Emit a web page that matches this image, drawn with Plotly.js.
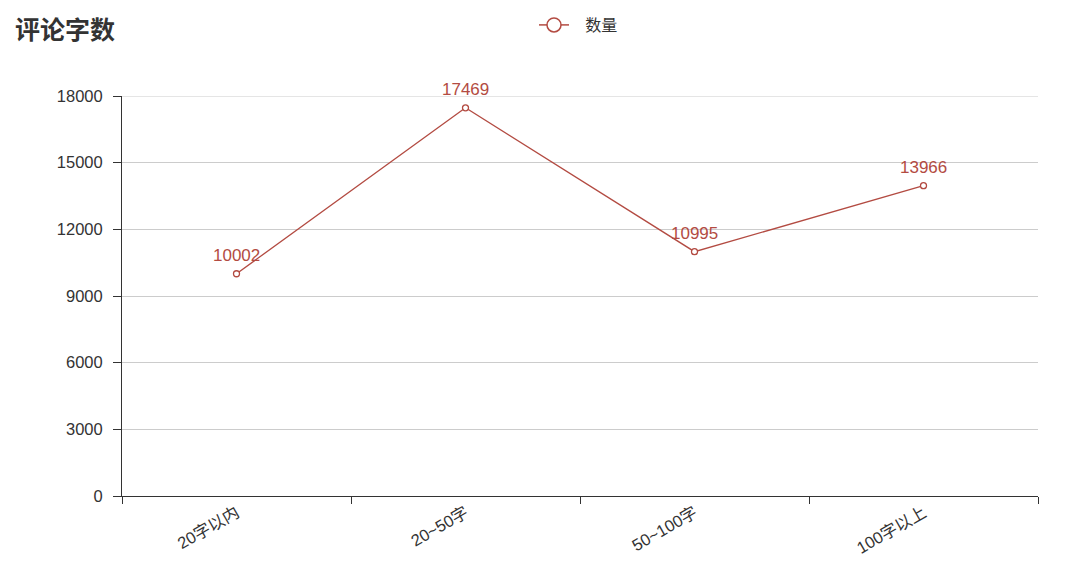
<!DOCTYPE html>
<html><head><meta charset="utf-8">
<script src="https://cdn.plot.ly/plotly-3.0.1.min.js"></script>
<style>html,body{margin:0;padding:0;background:#fff;}#chart{width:1080px;height:562px;}</style>
</head><body><div id="chart"></div>
<script>
const categories = ["20字以内", "20~50字", "50~100字", "100字以上"];
const counts = [10002, 17469, 10995, 13966];
const yTicks = [0, 3000, 6000, 9000, 12000, 15000, 18000];
const seriesName = "数量";
const chartTitle = "评论字数";

const color = "#b34b42";
const font = "'Liberation Sans', Arial, 'Noto Sans CJK SC', sans-serif";
const cjk = "'Noto Sans CJK SC', sans-serif";

const trace = {
  type: "scatter",
  mode: "lines+markers",
  name: seriesName,
  x: categories,
  y: counts,
  showlegend: false,
  line: {color: color, width: 1.3},
  marker: {symbol: "circle", size: 6, color: "#fff", line: {width: 1.3, color: color}},
  cliponaxis: false
};

const legendTrace = {
  type: "scatter",
  mode: "lines+markers",
  name: "\u2002\u2009" + seriesName,
  x: [null], y: [null],
  showlegend: true,
  line: {color: color, width: 1.5},
  marker: {symbol: "circle", size: 14, color: "#fff", line: {width: 1.5, color: color}}
};

const annotations = categories.map((c, i) => ({
  x: c, y: counts[i], xref: "x", yref: "y",
  text: String(counts[i]), showarrow: false,
  yshift: 18, yanchor: "middle",
  font: {family: font, size: 17, color: color}
}));

const layout = {
  width: 1080, height: 562,
  margin: {l: 122, r: 42, t: 96, b: 66},
  paper_bgcolor: "#fff", plot_bgcolor: "#fff",
  font: {family: font, color: "#333", size: 16},
  title: {text: "<b>" + chartTitle + "</b>", x: 15/1080, xanchor: "left", y: 1 - 30/562, yanchor: "middle",
          font: {family: cjk, size: 25, color: "#333"}},
  showlegend: true,
  legend: {orientation: "h", x: 534/1080, xref: "container", xanchor: "left", y: 1 - 25/562, yanchor: "middle", yref: "container",
           font: {family: cjk, size: 16, color: "#333"}},
  annotations: annotations,
  shapes: [{type: "line", xref: "paper", x0: 0, x1: 1, yref: "y", y0: yTicks[yTicks.length-1], y1: yTicks[yTicks.length-1],
            line: {color: "#ccc", width: 1}, layer: "below"}],
  xaxis: {
    type: "category", range: [-0.5, 3.5], tickson: "boundaries",
    showline: true, linecolor: "#333", linewidth: 1,
    ticks: "outside", ticklen: 7, tickcolor: "#333",
    showgrid: false, zeroline: false, tickangle: -30,
    tickfont: {family: font, size: 16.5, color: "#333"}
  },
  yaxis: {
    range: [0, 18000], tickvals: yTicks, ticktext: yTicks.map(String),
    showline: true, linecolor: "#333", linewidth: 1,
    ticks: "outside", ticklen: 8, tickcolor: "#333", ticklabelstandoff: 7,
    showgrid: true, gridcolor: "#ccc", gridwidth: 1, zeroline: false,
    tickfont: {family: font, size: 16.5, color: "#333"}
  }
};

Plotly.newPlot("chart", [trace, legendTrace], layout, {displayModeBar: false, staticPlot: true});
</script></body></html>
